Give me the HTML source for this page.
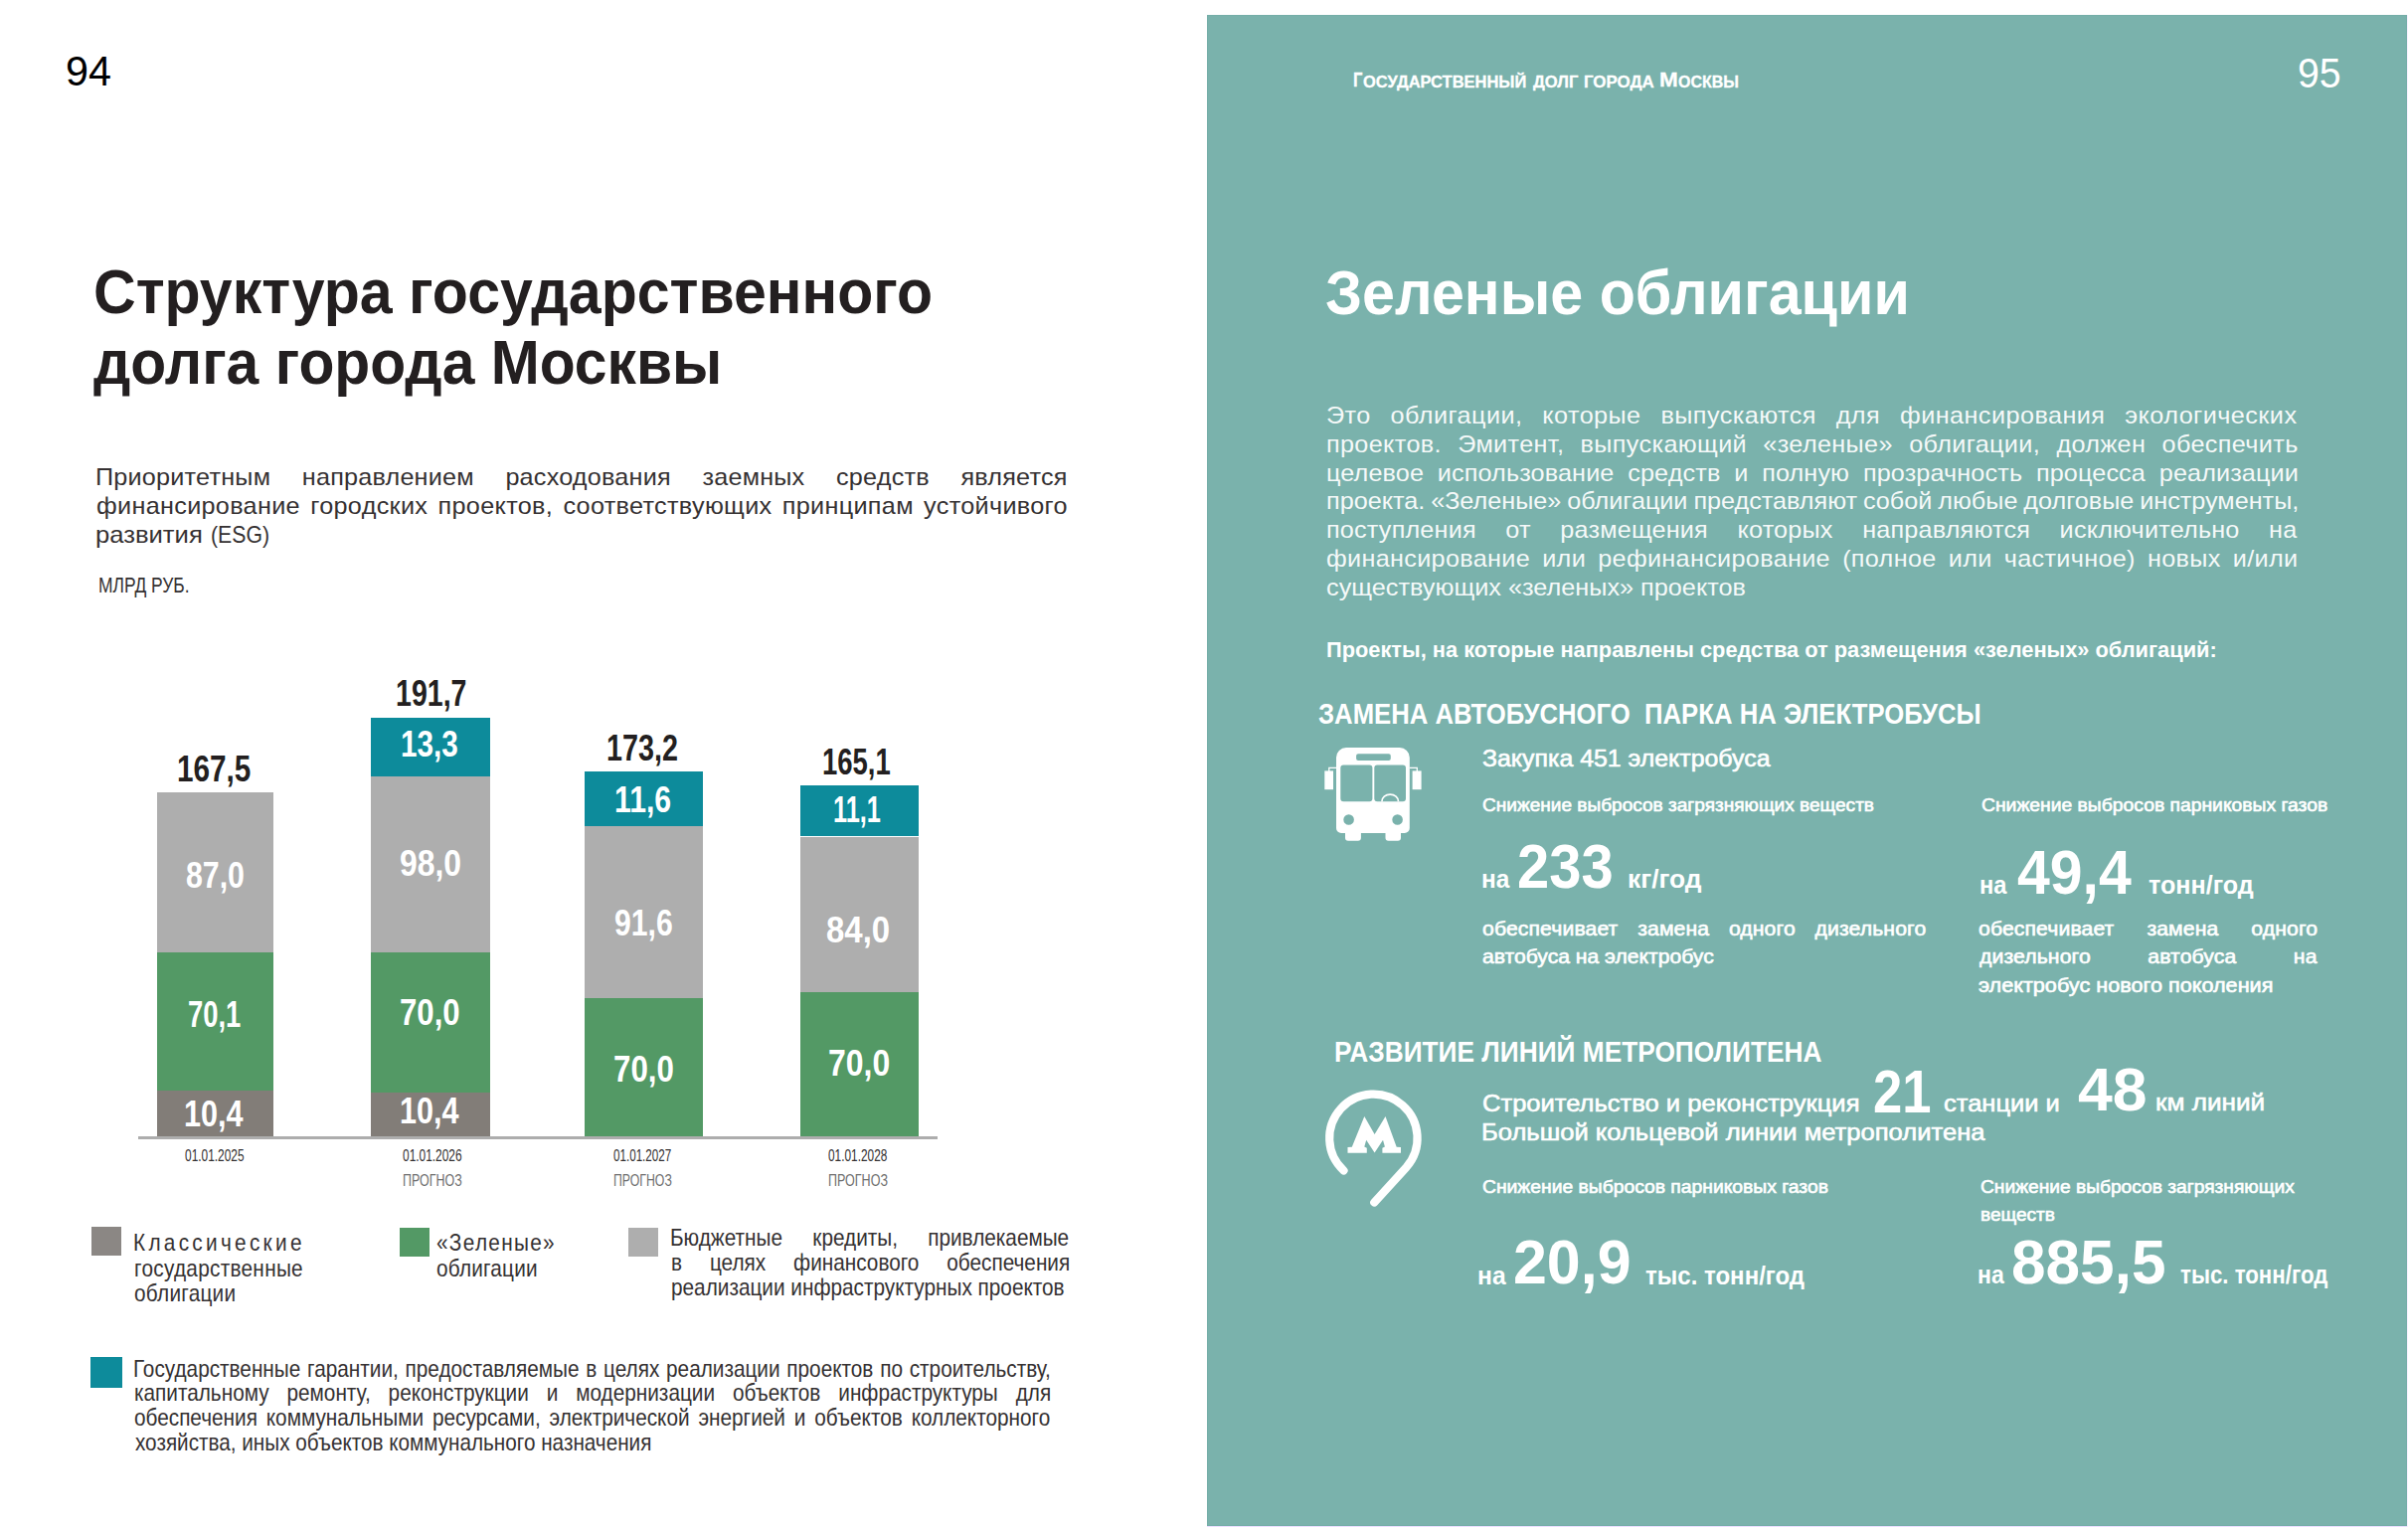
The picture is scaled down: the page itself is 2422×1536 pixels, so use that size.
<!DOCTYPE html>
<html lang="ru">
<head>
<meta charset="utf-8">
<title>Структура государственного долга города Москвы</title>
<style>
html,body{margin:0;padding:0;}
body{width:2422px;height:1536px;position:relative;overflow:hidden;background:#fff;font-family:"Liberation Sans", sans-serif;}
.t{position:absolute;white-space:pre;transform-origin:0 50%;font-kerning:normal;}
.r{position:absolute;}
.g{margin:0;padding:0;font-size:0;line-height:0;}
span.t{display:block;}
svg{position:absolute;left:0;top:0;}
</style>
</head>
<body>
<div class="r" style="left:1213.7px;top:14.7px;width:1207.3px;height:1520.3px;background:#7ab2ac;box-sizing:border-box;border:1px solid #75aea8;"></div>
<div class="r" style="left:1213.7px;top:1535px;width:1208.3px;height:1px;background:#eadfff;"></div>
<div class="r" style="left:2421px;top:14.7px;width:1px;height:1521.3px;background:#f7f0ff;"></div>
<!-- chart bars -->
<div class="r" style="left:157.6px;top:797px;width:117.6px;height:161.3px;background:#aeaeae;"></div>
<div class="r" style="left:157.6px;top:958.3px;width:117.6px;height:138.8px;background:#539965;"></div>
<div class="r" style="left:157.6px;top:1097.1px;width:117.6px;height:45.9px;background:#827d78;"></div>

<div class="r" style="left:373.3px;top:721.8px;width:119.9px;height:59.1px;background:#0d8b9b;"></div>
<div class="r" style="left:373.3px;top:780.9px;width:119.9px;height:176.9px;background:#aeaeae;"></div>
<div class="r" style="left:373.3px;top:957.8px;width:119.9px;height:140.8px;background:#539965;"></div>
<div class="r" style="left:373.3px;top:1098.6px;width:119.9px;height:44.4px;background:#827d78;"></div>

<div class="r" style="left:587.7px;top:776px;width:119.6px;height:54.9px;background:#0d8b9b;"></div>
<div class="r" style="left:587.7px;top:830.9px;width:119.6px;height:173.1px;background:#aeaeae;"></div>
<div class="r" style="left:587.7px;top:1004px;width:119.6px;height:139px;background:#539965;"></div>

<div class="r" style="left:804.5px;top:790.2px;width:119.5px;height:51.3px;background:#0d8b9b;"></div>
<div class="r" style="left:804.5px;top:841.5px;width:119.5px;height:156.5px;background:#aeaeae;"></div>
<div class="r" style="left:804.5px;top:998px;width:119.5px;height:145px;background:#539965;"></div>
<!-- axis -->
<div class="r" style="left:139.4px;top:1143px;width:803.2px;height:2.7px;background:#adadad;"></div>
<!-- legend squares -->
<div class="r" style="left:92px;top:1234px;width:30px;height:29px;background:#8b8784;"></div>
<div class="r" style="left:402px;top:1235.4px;width:30.2px;height:28.6px;background:#539965;"></div>
<div class="r" style="left:632px;top:1235.2px;width:30.4px;height:28.8px;background:#aeaeae;"></div>
<div class="r" style="left:91px;top:1364.9px;width:32.2px;height:30.7px;background:#0d8b9b;"></div>
<!-- icons -->
<svg width="2422" height="1536" viewBox="0 0 2422 1536">
 <g id="bus" fill="#fff">
  <path fill-rule="evenodd" d="M1354 752.1 H1407.8 A10 10 0 0 1 1417.8 762.1 V833 A5 5 0 0 1 1412.8 838 H1409 V842.8 A3 3 0 0 1 1406 845.8 H1396.5 A3 3 0 0 1 1393.5 842.8 V838 H1368.9 V842.8 A3 3 0 0 1 1365.9 845.8 H1356 A3 3 0 0 1 1353 842.8 V838 H1349 A5 5 0 0 1 1344 833 V762.1 A10 10 0 0 1 1354 752.1 Z
   M1366.1 758.2 H1396.8 A2 2 0 0 1 1398.8 760.2 V762.9 A2 2 0 0 1 1396.8 764.9 H1366.1 A2 2 0 0 1 1364.1 762.9 V760.2 A2 2 0 0 1 1366.1 758.2 Z
   M1351.3 769.6 H1377.4 A3 3 0 0 1 1380.4 772.6 V803.3 A3 3 0 0 1 1377.4 806.3 H1351.3 A3 3 0 0 1 1348.3 803.3 V772.6 A3 3 0 0 1 1351.3 769.6 Z
   M1385.3 769.6 H1411 A3 3 0 0 1 1414 772.6 V803.3 A3 3 0 0 1 1411 806.3 H1385.3 A3 3 0 0 1 1382.3 803.3 V772.6 A3 3 0 0 1 1385.3 769.6 Z
   M1351.3 824.5 a5.3 5.3 0 1 0 10.6 0 a5.3 5.3 0 1 0 -10.6 0 Z
   M1400.3 824.5 a5.3 5.3 0 1 0 10.6 0 a5.3 5.3 0 1 0 -10.6 0 Z"/>
  <rect x="1332.3" y="775.4" width="8.7" height="18.8"/>
  <rect x="1420.6" y="775.4" width="9" height="18.8"/>
  <path d="M1344 772.4 H1336.8 V776 M1417.8 772.4 H1425.3 V776" fill="none" stroke="#fff" stroke-width="1.3"/>
  <path d="M1389.9 806.3 A8.3 7.2 0 0 1 1406.5 806.3" fill="none" stroke="#fff" stroke-width="1.7"/>
 </g>
 <g id="metro">
  <path d="M1351.5 1177.4 A44.2 44.2 0 1 1 1414.7 1173.9 L1382.3 1209.4" fill="none" stroke="#fff" stroke-width="8.2" stroke-linecap="round" stroke-linejoin="round"/>
  <path fill="#fff" d="M1355.5 1159.8 V1154.1 L1359.8 1153.8 L1372.3 1123 L1382.6 1141.1 L1393.5 1123 L1404.7 1153.8 L1409 1154.1 V1159.8 H1390.4 V1154.8 L1392.9 1153.5 L1391 1146.7 L1382.6 1159.4 L1374.2 1146.7 L1372.3 1153.5 L1374.8 1154.8 V1159.8 Z"/>
 </g>
</svg>

<div class="t" style="left:66.06px;top:49.74px;font-size:42.6px;line-height:42.6px;color:#000000;transform:scaleX(0.9701);">94</div>
<h1 class="g"><span class="t" style="left:94.15px;top:261.72px;font-size:62.7px;line-height:62.7px;color:#231f20;font-weight:700;transform:scaleX(0.9420);">Структура государственного</span>
<span class="t" style="left:93.70px;top:332.72px;font-size:62.7px;line-height:62.7px;color:#231f20;font-weight:700;transform:scaleX(0.9380);">долга города Москвы</span></h1>
<p class="g"><span class="t" style="left:96.03px;top:468.38px;font-size:24px;line-height:24px;color:#353132;transform:scaleX(1.0500);letter-spacing:0.200px;word-spacing:23.247px;">Приоритетным направлением расходования заемных средств является</span>
<span class="t" style="left:96.51px;top:497.08px;font-size:24px;line-height:24px;color:#353132;transform:scaleX(1.0500);letter-spacing:0.300px;word-spacing:2.881px;">финансирование городских проектов, соответствующих принципам устойчивого</span>
<span class="t" style="left:96.40px;top:525.88px;font-size:24px;line-height:24px;color:#353132;transform:scaleX(1.0672);">развития</span>
<span class="t" style="left:211.70px;top:525.88px;font-size:24px;line-height:24px;color:#353132;transform:scaleX(0.8849);">(ESG)</span></p>
<div class="t" style="left:98.84px;top:577.85px;font-size:21.8px;line-height:21.8px;color:#353132;transform:scaleX(0.7993);">МЛРД РУБ.</div>
<div class="t" style="left:178.34px;top:756.10px;font-size:36.5px;line-height:36.5px;color:#231f20;font-weight:700;transform:scaleX(0.8145);">167,5</div>
<div class="t" style="left:398.02px;top:679.90px;font-size:36.5px;line-height:36.5px;color:#231f20;font-weight:700;transform:scaleX(0.7822);">191,7</div>
<div class="t" style="left:610.10px;top:735.10px;font-size:36.5px;line-height:36.5px;color:#231f20;font-weight:700;transform:scaleX(0.7873);">173,2</div>
<div class="t" style="left:827.38px;top:749.20px;font-size:36.5px;line-height:36.5px;color:#231f20;font-weight:700;transform:scaleX(0.7533);">165,1</div>
<div class="t" style="left:186.75px;top:862.50px;font-size:36.5px;line-height:36.5px;color:#ffffff;font-weight:700;transform:scaleX(0.8302);">87,0</div>
<div class="t" style="left:189.34px;top:1002.50px;font-size:36.5px;line-height:36.5px;color:#ffffff;font-weight:700;transform:scaleX(0.7508);">70,1</div>
<div class="t" style="left:185.29px;top:1102.70px;font-size:36.5px;line-height:36.5px;color:#ffffff;font-weight:700;transform:scaleX(0.8378);">10,4</div>
<div class="t" style="left:402.65px;top:731.20px;font-size:36.5px;line-height:36.5px;color:#ffffff;font-weight:700;transform:scaleX(0.8121);">13,3</div>
<div class="t" style="left:401.80px;top:850.50px;font-size:36.5px;line-height:36.5px;color:#ffffff;font-weight:700;transform:scaleX(0.8740);">98,0</div>
<div class="t" style="left:402.43px;top:1001.30px;font-size:36.5px;line-height:36.5px;color:#ffffff;font-weight:700;transform:scaleX(0.8536);">70,0</div>
<div class="t" style="left:402.09px;top:1099.50px;font-size:36.5px;line-height:36.5px;color:#ffffff;font-weight:700;transform:scaleX(0.8378);">10,4</div>
<div class="t" style="left:618.31px;top:787.40px;font-size:36.5px;line-height:36.5px;color:#ffffff;font-weight:700;transform:scaleX(0.8278);">11,6</div>
<div class="t" style="left:618.36px;top:911.40px;font-size:36.5px;line-height:36.5px;color:#ffffff;font-weight:700;transform:scaleX(0.8262);">91,6</div>
<div class="t" style="left:617.32px;top:1057.60px;font-size:36.5px;line-height:36.5px;color:#ffffff;font-weight:700;transform:scaleX(0.8565);">70,0</div>
<div class="t" style="left:837.52px;top:796.60px;font-size:36.5px;line-height:36.5px;color:#ffffff;font-weight:700;transform:scaleX(0.6942);">11,1</div>
<div class="t" style="left:830.97px;top:917.90px;font-size:36.5px;line-height:36.5px;color:#ffffff;font-weight:700;transform:scaleX(0.9032);">84,0</div>
<div class="t" style="left:833.00px;top:1052.20px;font-size:36.5px;line-height:36.5px;color:#ffffff;font-weight:700;transform:scaleX(0.8755);">70,0</div>
<div class="t" style="left:186.13px;top:1154.12px;font-size:16.4px;line-height:16.4px;color:#333031;transform:scaleX(0.7268);">01.01.2025</div>
<div class="g"><span class="t" style="left:405.13px;top:1154.12px;font-size:16.4px;line-height:16.4px;color:#333031;transform:scaleX(0.7268);">01.01.2026</span>
<span class="t" style="left:404.52px;top:1179.22px;font-size:16.4px;line-height:16.4px;color:#6e6e6e;transform:scaleX(0.7616);">ПРОГНОЗ</span></div>
<div class="g"><span class="t" style="left:617.14px;top:1154.12px;font-size:16.4px;line-height:16.4px;color:#333031;transform:scaleX(0.7095);">01.01.2027</span>
<span class="t" style="left:616.54px;top:1179.22px;font-size:16.4px;line-height:16.4px;color:#6e6e6e;transform:scaleX(0.7499);">ПРОГНОЗ</span></div>
<div class="g"><span class="t" style="left:833.13px;top:1154.12px;font-size:16.4px;line-height:16.4px;color:#333031;transform:scaleX(0.7231);">01.01.2028</span>
<span class="t" style="left:832.52px;top:1179.22px;font-size:16.4px;line-height:16.4px;color:#6e6e6e;transform:scaleX(0.7642);">ПРОГНОЗ</span></div>
<div class="g"><span class="t" style="left:134.48px;top:1238.28px;font-size:24px;line-height:24px;color:#353132;transform:scaleX(0.8650);letter-spacing:3.824px;">Классические</span>
<span class="t" style="left:134.80px;top:1263.68px;font-size:24px;line-height:24px;color:#353132;transform:scaleX(0.8650);letter-spacing:0.337px;">государственные</span>
<span class="t" style="left:135.45px;top:1288.58px;font-size:24px;line-height:24px;color:#353132;transform:scaleX(0.8650);letter-spacing:0.304px;">облигации</span></div>
<div class="g"><span class="t" style="left:439.45px;top:1238.28px;font-size:24px;line-height:24px;color:#353132;transform:scaleX(0.8650);letter-spacing:1.519px;">«Зеленые»</span>
<span class="t" style="left:439.45px;top:1263.68px;font-size:24px;line-height:24px;color:#353132;transform:scaleX(0.8650);letter-spacing:0.232px;">облигации</span></div>
<div class="g"><span class="t" style="left:674.38px;top:1233.48px;font-size:24px;line-height:24px;color:#353132;transform:scaleX(0.8650);word-spacing:28.326px;">Бюджетные кредиты, привлекаемые</span>
<span class="t" style="left:674.70px;top:1258.48px;font-size:24px;line-height:24px;color:#353132;transform:scaleX(0.8650);word-spacing:25.587px;">в целях финансового обеспечения</span>
<span class="t" style="left:674.70px;top:1283.38px;font-size:24px;line-height:24px;color:#353132;transform:scaleX(0.8655);">реализации инфраструктурных проектов</span></div>
<div class="g"><span class="t" style="left:134.18px;top:1364.58px;font-size:24px;line-height:24px;color:#353132;transform:scaleX(0.8650);word-spacing:1.162px;">Государственные гарантии, предоставляемые в целях реализации проектов по строительству,</span>
<span class="t" style="left:134.50px;top:1389.48px;font-size:24px;line-height:24px;color:#353132;transform:scaleX(0.8650);word-spacing:14.060px;">капитальному ремонту, реконструкции и модернизации объектов инфраструктуры для</span>
<span class="t" style="left:135.15px;top:1414.38px;font-size:24px;line-height:24px;color:#353132;transform:scaleX(0.8650);word-spacing:3.634px;">обеспечения коммунальными ресурсами, электрической энергией и объектов коллекторного</span>
<span class="t" style="left:135.80px;top:1439.28px;font-size:24px;line-height:24px;color:#353132;transform:scaleX(0.8626);">хозяйства, иных объектов коммунального назначения</span></div>
<div class="g"><span class="t" style="left:1361.26px;top:70.46px;font-size:20.6px;line-height:20.6px;color:#ffffff;font-weight:700;transform:scaleX(0.8058);-webkit-text-stroke:0.3px #ffffff;">Г</span><span class="t" style="left:1371.28px;top:74.61px;font-size:15.7px;line-height:15.7px;color:#ffffff;font-weight:700;transform:scaleX(1.0501);-webkit-text-stroke:0.3px #ffffff;text-transform:uppercase;">осударственный</span>
<span class="t" style="left:1541.90px;top:74.61px;font-size:15.7px;line-height:15.7px;color:#ffffff;font-weight:700;transform:scaleX(1.0571);-webkit-text-stroke:0.3px #ffffff;text-transform:uppercase;">долг</span>
<span class="t" style="left:1592.74px;top:74.61px;font-size:15.7px;line-height:15.7px;color:#ffffff;font-weight:700;transform:scaleX(1.0789);-webkit-text-stroke:0.3px #ffffff;text-transform:uppercase;">города</span>
<span class="t" style="left:1668.69px;top:70.46px;font-size:20.6px;line-height:20.6px;color:#ffffff;font-weight:700;transform:scaleX(1.0941);-webkit-text-stroke:0.3px #ffffff;">М</span><span class="t" style="left:1687.50px;top:74.61px;font-size:15.7px;line-height:15.7px;color:#ffffff;font-weight:700;transform:scaleX(1.0196);-webkit-text-stroke:0.3px #ffffff;text-transform:uppercase;">осквы</span></div>
<div class="t" style="left:2310.96px;top:52.35px;font-size:42.7px;line-height:42.7px;color:#ffffff;transform:scaleX(0.9209);">95</div>
<div class="t" style="left:1332.77px;top:262.92px;font-size:62.7px;line-height:62.7px;color:#ffffff;font-weight:700;transform:scaleX(0.9450);">Зеленые облигации</div>
<p class="g"><span class="t" style="left:1334.02px;top:405.78px;font-size:24px;line-height:24px;color:#ffffff;transform:scaleX(1.0500);letter-spacing:0.430px;word-spacing:11.783px;opacity:0.93;">Это облигации, которые выпускаются для финансирования экологических</span>
<span class="t" style="left:1333.62px;top:434.68px;font-size:24px;line-height:24px;color:#ffffff;transform:scaleX(1.0500);letter-spacing:0.340px;word-spacing:8.574px;opacity:0.93;">проектов. Эмитент, выпускающий «зеленые» облигации, должен обеспечить</span>
<span class="t" style="left:1333.62px;top:463.58px;font-size:24px;line-height:24px;color:#ffffff;transform:scaleX(1.0500);letter-spacing:0.120px;word-spacing:6.313px;opacity:0.93;">целевое использование средств и полную прозрачность процесса реализации</span>
<span class="t" style="left:1333.62px;top:492.48px;font-size:24px;line-height:24px;color:#ffffff;transform:scaleX(1.0500);letter-spacing:-0.009px;word-spacing:-1.000px;opacity:0.93;">проекта. «Зеленые» облигации представляют собой любые долговые инструменты,</span>
<span class="t" style="left:1333.62px;top:521.38px;font-size:24px;line-height:24px;color:#ffffff;transform:scaleX(1.0500);letter-spacing:0.180px;word-spacing:21.315px;opacity:0.93;">поступления от размещения которых направляются исключительно на</span>
<span class="t" style="left:1334.41px;top:550.28px;font-size:24px;line-height:24px;color:#ffffff;transform:scaleX(1.0500);letter-spacing:0.310px;word-spacing:4.615px;opacity:0.93;">финансирование или рефинансирование (полное или частичное) новых и/или</span>
<span class="t" style="left:1334.21px;top:579.28px;font-size:24px;line-height:24px;color:#ffffff;transform:scaleX(1.0523);opacity:0.93;">существующих «зеленых» проектов</span></p>
<div class="t" style="left:1333.54px;top:641.80px;font-size:22.8px;line-height:22.8px;color:#ffffff;font-weight:700;transform:scaleX(0.9566);">Проекты, на которые направлены средства от размещения «зеленых» облигаций:</div>
<div class="t" style="left:1325.80px;top:703.89px;font-size:28.6px;line-height:28.6px;color:#ffffff;font-weight:700;transform:scaleX(0.8988);">ЗАМЕНА АВТОБУСНОГО  ПАРКА НА ЭЛЕКТРОБУСЫ</div>
<div class="t" style="left:1491.12px;top:751.41px;font-size:24.2px;line-height:24.2px;color:#ffffff;transform:scaleX(1.0288);-webkit-text-stroke:0.6px #ffffff;">Закупка 451 электробуса</div>
<div class="t" style="left:1491.01px;top:800.51px;font-size:18.3px;line-height:18.3px;color:#ffffff;transform:scaleX(1.0424);-webkit-text-stroke:0.6px #ffffff;">Снижение выбросов загрязняющих веществ</div>
<div class="t" style="left:1992.79px;top:800.51px;font-size:18.3px;line-height:18.3px;color:#ffffff;transform:scaleX(1.0563);-webkit-text-stroke:0.6px #ffffff;">Снижение выбросов парниковых газов</div>
<div class="g"><span class="t" style="left:1490.38px;top:871.19px;font-size:26px;line-height:26px;color:#ffffff;font-weight:700;transform:scaleX(0.9371);">на</span>
<span class="t" style="left:1526.19px;top:840.96px;font-size:62.3px;line-height:62.3px;color:#ffffff;font-weight:700;transform:scaleX(0.9298);">233</span>
<span class="t" style="left:1637.25px;top:871.19px;font-size:26px;line-height:26px;color:#ffffff;font-weight:700;transform:scaleX(1.0137);">кг/год</span></div>
<div class="g"><span class="t" style="left:1991.22px;top:877.39px;font-size:26px;line-height:26px;color:#ffffff;font-weight:700;transform:scaleX(0.9093);">на</span>
<span class="t" style="left:2028.80px;top:847.16px;font-size:62.3px;line-height:62.3px;color:#ffffff;font-weight:700;transform:scaleX(0.9462);">49,4</span>
<span class="t" style="left:2160.51px;top:877.39px;font-size:26px;line-height:26px;color:#ffffff;font-weight:700;transform:scaleX(0.9662);">тонн/год</span></div>
<p class="g"><span class="t" style="left:1491.24px;top:923.67px;font-size:20px;line-height:20px;color:#ffffff;transform:scaleX(1.0600);letter-spacing:0.100px;word-spacing:12.959px;-webkit-text-stroke:0.6px #ffffff;">обеспечивает замена одного дизельного</span>
<span class="t" style="left:1491.24px;top:952.27px;font-size:20px;line-height:20px;color:#ffffff;transform:scaleX(1.0563);-webkit-text-stroke:0.6px #ffffff;">автобуса на электробус</span></p>
<p class="g"><span class="t" style="left:1990.04px;top:923.67px;font-size:20px;line-height:20px;color:#ffffff;transform:scaleX(1.0600);letter-spacing:0.100px;word-spacing:25.433px;-webkit-text-stroke:0.6px #ffffff;">обеспечивает замена одного</span>
<span class="t" style="left:1990.70px;top:952.27px;font-size:20px;line-height:20px;color:#ffffff;transform:scaleX(1.0600);letter-spacing:0.100px;word-spacing:48.553px;-webkit-text-stroke:0.6px #ffffff;">дизельного автобуса на</span>
<span class="t" style="left:1990.36px;top:981.47px;font-size:20px;line-height:20px;color:#ffffff;transform:scaleX(1.0818);-webkit-text-stroke:0.6px #ffffff;">электробус нового поколения</span></p>
<div class="t" style="left:1341.96px;top:1044.19px;font-size:28.6px;line-height:28.6px;color:#ffffff;font-weight:700;transform:scaleX(0.9193);">РАЗВИТИЕ ЛИНИЙ МЕТРОПОЛИТЕНА</div>
<p class="g"><span class="t" style="left:1490.70px;top:1098.01px;font-size:24.2px;line-height:24.2px;color:#ffffff;transform:scaleX(1.0560);-webkit-text-stroke:0.6px #ffffff;">Строительство и реконструкция</span>
<span class="t" style="left:1883.65px;top:1067.32px;font-size:62px;line-height:62px;color:#ffffff;font-weight:700;transform:scaleX(0.8491);">21</span>
<span class="t" style="left:1955.00px;top:1098.01px;font-size:24.2px;line-height:24.2px;color:#ffffff;transform:scaleX(1.0543);-webkit-text-stroke:0.6px #ffffff;">станции и</span>
<span class="t" style="left:2089.60px;top:1065.32px;font-size:62px;line-height:62px;color:#ffffff;font-weight:700;transform:scaleX(1.0086);">48</span>
<span class="t" style="left:2167.96px;top:1097.31px;font-size:24.2px;line-height:24.2px;color:#ffffff;transform:scaleX(1.0812);-webkit-text-stroke:0.6px #ffffff;">км линий</span>
<span class="t" style="left:1489.90px;top:1127.21px;font-size:24.2px;line-height:24.2px;color:#ffffff;transform:scaleX(1.0572);-webkit-text-stroke:0.6px #ffffff;">Большой кольцевой линии метрополитена</span></p>
<div class="t" style="left:1490.99px;top:1185.31px;font-size:18.3px;line-height:18.3px;color:#ffffff;transform:scaleX(1.0554);-webkit-text-stroke:0.6px #ffffff;">Снижение выбросов парниковых газов</div>
<div class="g"><span class="t" style="left:1991.80px;top:1184.81px;font-size:18.3px;line-height:18.3px;color:#ffffff;transform:scaleX(1.0492);-webkit-text-stroke:0.6px #ffffff;">Снижение выбросов загрязняющих</span>
<span class="t" style="left:1991.51px;top:1213.21px;font-size:18.3px;line-height:18.3px;color:#ffffff;transform:scaleX(1.0418);-webkit-text-stroke:0.6px #ffffff;">веществ</span></div>
<div class="g"><span class="t" style="left:1486.06px;top:1269.69px;font-size:26px;line-height:26px;color:#ffffff;font-weight:700;transform:scaleX(0.9476);">на</span>
<span class="t" style="left:1522.40px;top:1239.46px;font-size:62.3px;line-height:62.3px;color:#ffffff;font-weight:700;transform:scaleX(0.9774);">20,9</span>
<span class="t" style="left:1655.42px;top:1269.69px;font-size:26px;line-height:26px;color:#ffffff;font-weight:700;transform:scaleX(0.9240);">тыс. тонн/год</span></div>
<div class="g"><span class="t" style="left:1989.26px;top:1269.19px;font-size:26px;line-height:26px;color:#ffffff;font-weight:700;transform:scaleX(0.8849);">на</span>
<span class="t" style="left:2022.86px;top:1238.96px;font-size:62.3px;line-height:62.3px;color:#ffffff;font-weight:700;transform:scaleX(0.9974);">885,5</span>
<span class="t" style="left:2192.65px;top:1269.19px;font-size:26px;line-height:26px;color:#ffffff;font-weight:700;transform:scaleX(0.8562);">тыс. тонн/год</span></div>

</body>
</html>
